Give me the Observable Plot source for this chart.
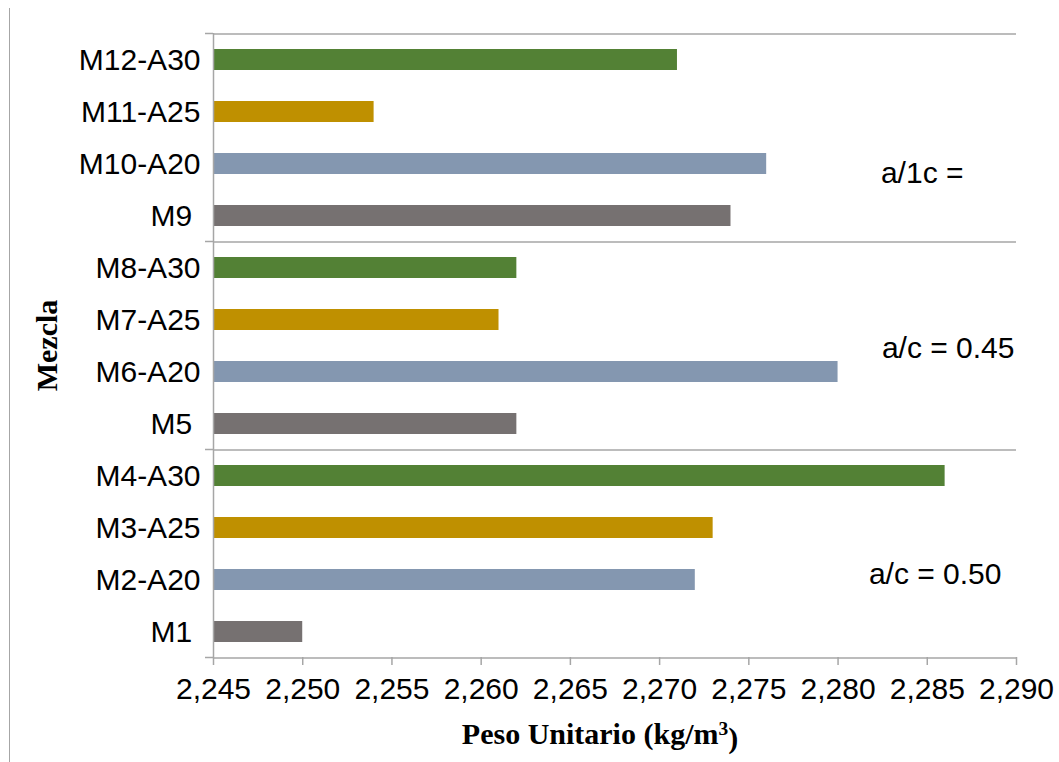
<!DOCTYPE html>
<html>
<head>
<meta charset="utf-8">
<script src="https://cdn.jsdelivr.net/npm/d3@7"></script>
<script src="https://cdn.jsdelivr.net/npm/@observablehq/plot@0.6"></script>
<style>
  html, body { margin: 0; padding: 0; background: #fff; }
  #wrap { position: relative; width: 1059px; height: 762px; }
  #border { position: absolute; left: 9px; top: 8px; width: 1px; height: 754px; background: #a6a6a6; }
</style>
</head>
<body>
<div id="wrap"><div id="border"></div><div id="chart"></div></div>
<script>
// Data
const mezclas = ["M1", "M2-A20", "M3-A25", "M4-A30", "M5", "M6-A20", "M7-A25", "M8-A30", "M9", "M10-A20", "M11-A25", "M12-A30"];
const pesoUnitario = [2250, 2272, 2273, 2286, 2262, 2280, 2261, 2262, 2274, 2276, 2254, 2271];
const tipos = ["Ref", "A20", "A25", "A30", "Ref", "A20", "A25", "A30", "Ref", "A20", "A25", "A30"];
const tipoColores = ["#767171", "#8497B0", "#BF9000", "#538135"];
const tipoDominio = ["Ref", "A20", "A25", "A30"];
const xTicks = [2245, 2250, 2255, 2260, 2265, 2270, 2275, 2280, 2285, 2290];
const grupos = ["a/c = 0.50", "a/c = 0.45", "a/1c ="];
const grupoInicio = ["M1", "M5", "M9"];
const grupoFin = ["M4-A30", "M8-A30", "M12-A30"];
const xTitulo = "Peso Unitario (kg/m³)";
const yTitulo = "Mezcla";

const data = mezclas.map((m, i) => ({mezcla: m, valor: pesoUnitario[i], tipo: tipos[i]}));
const fmt = d3.format(",");
const labelFmt = (m) => (m.includes("-") ? m : m + "\u00a0");

const GRID = "#a6a6a6";
const sans = "Liberation Sans, Arial, sans-serif";
const serif = "Liberation Serif, Times New Roman, serif";
const FS = 30;

const chart = Plot.plot({
  width: 1059,
  height: 762,
  marginLeft: 213,
  marginRight: 43,
  marginTop: 33,
  marginBottom: 105,
  style: {fontFamily: sans, fontSize: FS + "px", color: "#000", background: "transparent", overflow: "visible"},
  x: {domain: [xTicks[0], xTicks[xTicks.length - 1]]},
  y: {domain: mezclas.slice().reverse(), paddingInner: 0.6, paddingOuter: 0.3},
  color: {domain: tipoDominio, range: tipoColores},
  marks: [
    Plot.barX(data, {y: "mezcla", x1: () => xTicks[0], x2: "valor", fill: "tipo"}),
    // group separators (bottom of each group) and top line
    Plot.ruleY(grupoInicio, {dy: 26, stroke: GRID, strokeWidth: 1.5}),
    Plot.ruleY([grupoFin[2]], {dy: -26, stroke: GRID, strokeWidth: 1.5}),
    Plot.ruleX([xTicks[0]], {stroke: GRID, strokeWidth: 1.5}),
    Plot.axisX({ticks: xTicks, tickFormat: fmt, tickSize: 8, tickPadding: 12, fontSize: FS, stroke: GRID, strokeWidth: 1.5, fill: "#000", label: null}),
    Plot.axisY({tickSize: 0, tickPadding: 13, fontSize: FS, tickFormat: labelFmt, fill: "#000", label: null}),
    // group annotations
    Plot.text([grupos[0]], {y: () => "M2-A20", frameAnchor: "right", textAnchor: "end", dx: -15, dy: -6, fontSize: FS, fontFamily: sans, fill: "#000"}),
    Plot.text([grupos[1]], {y: () => "M6-A20", frameAnchor: "right", textAnchor: "end", dx: -2, dy: -24, fontSize: FS, fontFamily: sans, fill: "#000"}),
    Plot.text([grupos[2]], {y: () => "M10-A20", frameAnchor: "right", textAnchor: "end", dx: -53, dy: 9, fontSize: FS, fontFamily: sans, fill: "#000"}),
    // axis titles
    Plot.text([xTitulo], {frameAnchor: "bottom", textAnchor: "middle", dy: 86, dx: -15, fontSize: FS, fontFamily: serif, fontWeight: "bold", fill: "#000"}),
    Plot.text([yTitulo], {frameAnchor: "left", textAnchor: "middle", dx: -166, rotate: -90, fontSize: FS, fontFamily: serif, fontWeight: "bold", fill: "#000"})
  ]
});

const svg = d3.select(chart);
// true superscript for the cube
svg.selectAll("text").filter(function () { return this.textContent === xTitulo; }).each(function () {
  const t = d3.select(this);
  const parts = xTitulo.split("³");
  t.text(null);
  t.append("tspan").text(parts[0]);
  t.append("tspan").attr("dy", "-0.45em").attr("font-size", "0.65em").text("3");
  t.append("tspan").attr("dy", "0.45em").text(parts[1]);
});
// small tick stubs left of the vertical axis at each group boundary (from the plot's y scale)
const ys = chart.scale("y");
const xs = chart.scale("x");
const x0 = xs.apply(xTicks[0]);
const half = ys.step / 2;
const bounds = grupoInicio.map((m) => ys.apply(m) + ys.bandwidth / 2 + half).concat([ys.apply(grupoFin[2]) + ys.bandwidth / 2 - half]);
svg.append("g").attr("stroke", GRID).attr("stroke-width", 1.5)
  .selectAll("line").data(bounds).join("line")
  .attr("x1", x0 - 8).attr("x2", x0).attr("y1", (d) => d).attr("y2", (d) => d);
document.getElementById("chart").appendChild(chart);
</script>
</body>
</html>
